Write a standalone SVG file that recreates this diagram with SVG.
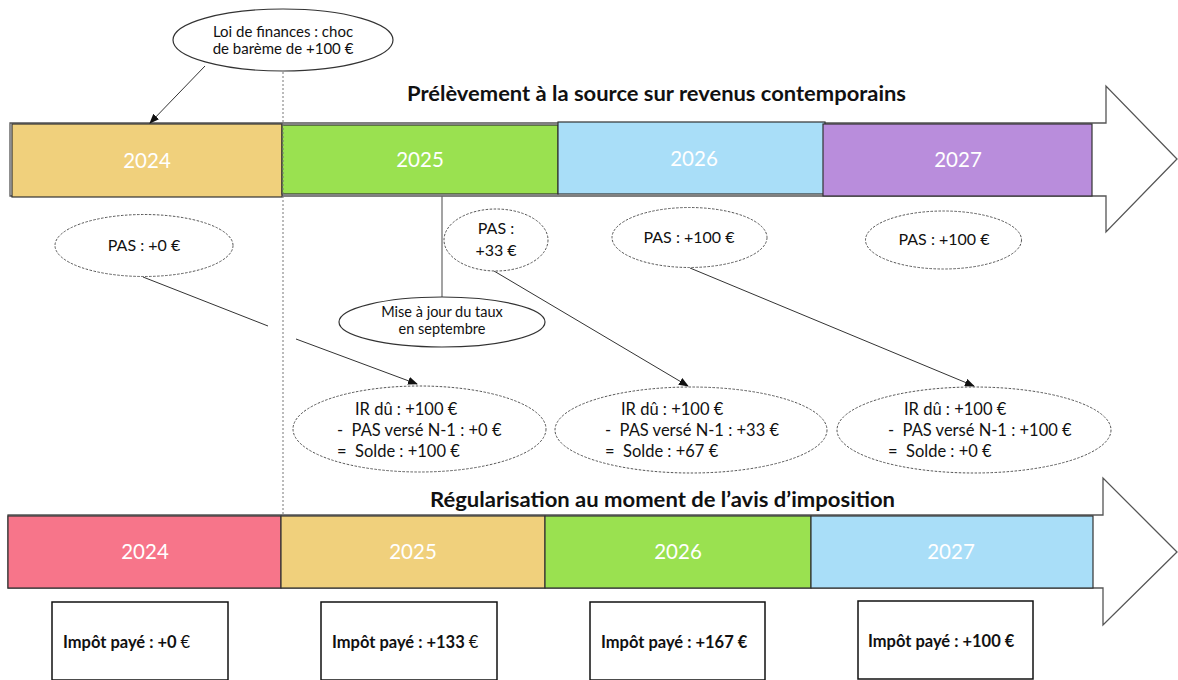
<svg xmlns="http://www.w3.org/2000/svg" width="1178" height="680" viewBox="0 0 1178 680">
<style>
text{font-family:Lato,"Liberation Sans",sans-serif;fill:#111}
.yr{font-size:20.5px;fill:#fff;text-anchor:middle}
.ttl{font-size:20px;font-weight:bold}
.big{fill:#fff;stroke:#555;stroke-width:1.3}
.box{stroke:#333;stroke-width:1.2}
.dash{fill:#fff;stroke:#555;stroke-width:1;stroke-dasharray:2.5 1.5}
.solid{fill:#fff;stroke:#333;stroke-width:1.2}
.t14{font-size:15px;text-anchor:middle}
.t13{font-size:14.5px;text-anchor:middle}
.t15{font-size:16.5px;white-space:pre}
.t15m{font-size:16px;text-anchor:middle}
.imp{fill:#fff;stroke:#111;stroke-width:1.5}
.ib{font-size:16.5px;font-weight:bold}
.con{stroke:#333;stroke-width:1;fill:none}
</style>
<defs>
<marker id="ah" markerWidth="10" markerHeight="8" refX="9" refY="4" orient="auto" markerUnits="userSpaceOnUse">
<path d="M0,0 L10,4 L0,8 z" fill="#111"/>
</marker>
</defs>

<g id="top-arrow">
<path class="big" d="M10,123 H1106 V86 L1177,159 L1106,232 V196 H10 Z"/>
</g>
<g id="bottom-arrow">
<path class="big" d="M8,515 H1103 V478 L1177,552 L1103,625 V588 H8 Z"/>
</g>

<g id="title-top"><text class="ttl" x="407" y="101" textLength="499" lengthAdjust="spacingAndGlyphs">Prélèvement à la source sur revenus contemporains</text></g>
<g id="title-bottom"><text class="ttl" x="430" y="507" textLength="465" lengthAdjust="spacingAndGlyphs">Régularisation au moment de l’avis d’imposition</text></g>

<g id="top-2024"><rect class="box" x="12" y="124" width="270" height="73" fill="#F0D07C"/><text class="yr" x="147" y="168">2024</text></g>
<g id="top-2025"><rect class="box" x="282" y="125" width="276" height="69" fill="#9AE150"/><text class="yr" x="420" y="167">2025</text></g>
<g id="top-2026"><rect class="box" x="558" y="122" width="267" height="72" fill="#A9DEF8"/><text class="yr" x="694" y="166">2026</text></g>
<g id="top-2027"><rect class="box" x="823" y="124" width="269" height="72" fill="#B98DDC"/><text class="yr" x="958" y="167">2027</text></g>

<g id="bot-2024"><rect class="box" x="8" y="516" width="273" height="72" fill="#F7758A"/><text class="yr" x="145" y="559">2024</text></g>
<g id="bot-2025"><rect class="box" x="281" y="516" width="264" height="72" fill="#F0D07C"/><text class="yr" x="413" y="559">2025</text></g>
<g id="bot-2026"><rect class="box" x="545" y="516" width="266" height="72" fill="#9AE150"/><text class="yr" x="678" y="559">2026</text></g>
<g id="bot-2027"><rect class="box" x="811" y="516" width="282" height="72" fill="#A9DEF8"/><text class="yr" x="951" y="559">2027</text></g>

<g id="connectors">
<line x1="283" y1="72" x2="283" y2="515" stroke="#777" stroke-width="1" stroke-dasharray="2 2"/>
<line class="con" x1="205" y1="66" x2="150" y2="123" marker-end="url(#ah)"/>
<line x1="442" y1="196" x2="442" y2="297" stroke="#666" stroke-width="1.2"/>
<line class="con" x1="143" y1="277" x2="268" y2="326"/>
<line class="con" x1="296" y1="339" x2="417" y2="384" marker-end="url(#ah)"/>
<line class="con" x1="494" y1="271" x2="688" y2="386" marker-end="url(#ah)"/>
<line class="con" x1="690" y1="268" x2="974" y2="386" marker-end="url(#ah)"/>
</g>

<g id="callout-loi">
<ellipse class="solid" cx="283" cy="40" rx="110" ry="31"/>
<text class="t14" x="283" y="37">Loi de finances : choc</text>
<text class="t14" x="283" y="54">de barème de +100 €</text>
</g>

<g id="pas-2024"><ellipse class="dash" cx="144" cy="245.5" rx="89" ry="31"/><text class="t15m" x="144" y="251">PAS : +0 €</text></g>
<g id="pas-2025"><ellipse class="dash" cx="496" cy="240" rx="52" ry="31"/><text class="t15m" x="496" y="234">PAS :</text><text class="t15m" x="496" y="256">+33 €</text></g>
<g id="pas-2026"><ellipse class="dash" cx="689.5" cy="237.5" rx="77.5" ry="30"/><text class="t15m" x="689" y="243">PAS : +100 €</text></g>
<g id="pas-2027"><ellipse class="dash" cx="943.5" cy="240" rx="78" ry="29"/><text class="t15m" x="944" y="245">PAS : +100 €</text></g>

<g id="maj"><ellipse class="solid" cx="442" cy="322" rx="103" ry="25"/><text class="t13" x="442" y="317">Mise à jour du taux</text><text class="t13" x="442" y="334">en septembre</text></g>

<g id="ir-2025"><ellipse class="dash" cx="419.5" cy="429" rx="126.5" ry="43"/>
<text class="t15" x="355" y="415">IR dû : +100 €</text>
<text class="t15" x="337" y="436">-  PAS versé N-1 : +0 €</text>
<text class="t15" x="337" y="457">=  Solde : +100 €</text></g>
<g id="ir-2026"><ellipse class="dash" cx="691" cy="430" rx="136" ry="43"/>
<text class="t15" x="621" y="415">IR dû : +100 €</text>
<text class="t15" x="605" y="436">-  PAS versé N-1 : +33 €</text>
<text class="t15" x="605" y="457">=  Solde : +67 €</text></g>
<g id="ir-2027"><ellipse class="dash" cx="974" cy="430" rx="137" ry="43"/>
<text class="t15" x="904" y="415">IR dû : +100 €</text>
<text class="t15" x="888" y="436">-  PAS versé N-1 : +100 €</text>
<text class="t15" x="888" y="457">=  Solde : +0 €</text></g>

<g id="imp-2024"><rect class="imp" x="52" y="602" width="176" height="78"/><text class="ib" x="63" y="648">Impôt payé : +0 <tspan font-weight="normal">€</tspan></text></g>
<g id="imp-2025"><rect class="imp" x="321" y="602" width="176" height="78"/><text class="ib" x="332" y="648">Impôt payé : +133 <tspan font-weight="normal">€</tspan></text></g>
<g id="imp-2026"><rect class="imp" x="590" y="602" width="175" height="78"/><text class="ib" x="601" y="648">Impôt payé : +167 €</text></g>
<g id="imp-2027"><rect class="imp" x="858" y="601" width="175" height="78"/><text class="ib" x="868" y="647">Impôt payé : +100 €</text></g>
</svg>
